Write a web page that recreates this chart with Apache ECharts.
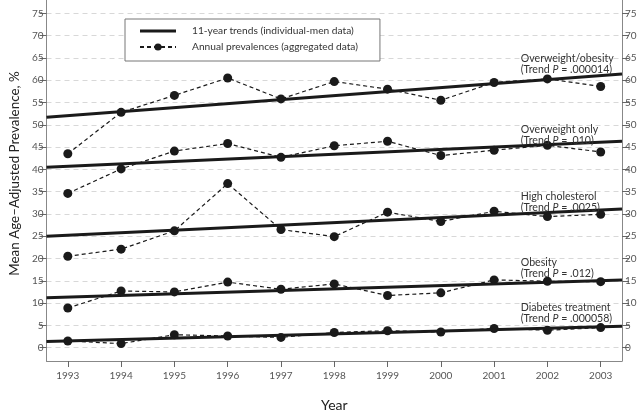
<!DOCTYPE html>
<html>
<head>
<meta charset="utf-8">
<script src="https://cdn.jsdelivr.net/npm/echarts@6/dist/echarts.min.js"></script>
<style>html,body{margin:0;padding:0;background:#fff}#c{width:640px;height:417px}</style>
</head>
<body>
<div id="c"></div>
<script>
// ---- data ----
var years = [1993, 1994, 1995, 1996, 1997, 1998, 1999, 2000, 2001, 2002, 2003];
var yTicks = [0, 5, 10, 15, 20, 25, 30, 35, 40, 45, 50, 55, 60, 65, 70, 75];

var overweightObesity = [43.5, 52.8, 56.6, 60.5, 55.8, 59.7, 58.0, 55.5, 59.5, 60.3, 58.6];
var overweightOnly    = [34.6, 40.1, 44.1, 45.8, 42.7, 45.3, 46.3, 43.1, 44.3, 45.4, 43.9];
var highCholesterol   = [20.5, 22.1, 26.2, 36.8, 26.5, 24.9, 30.4, 28.3, 30.6, 29.4, 29.9];
var obesity           = [8.9, 12.7, 12.5, 14.7, 13.1, 14.3, 11.7, 12.3, 15.2, 14.9, 14.8];
var diabetes          = [1.5, 0.9, 2.9, 2.6, 2.3, 3.4, 3.8, 3.5, 4.3, 3.9, 4.5];

// trend line values at the two x-axis ends (1992.6 and 2003.4)
var trendX = [1992.6, 2003.4];
var trendOverweightObesity = [51.7, 61.4];
var trendOverweightOnly    = [40.5, 46.3];
var trendHighCholesterol   = [25.0, 31.1];
var trendObesity           = [11.2, 15.2];
var trendDiabetes          = [1.4, 4.8];

var outcomeNames = ['Overweight/obesity', 'Overweight only', 'High cholesterol', 'Obesity', 'Diabetes treatment'];
var trendP = ['.000014', '.010', '.0025', '.012', '.000058'];

var trendName = '11-year trends (individual-men data)';
var annualName = 'Annual prevalences (aggregated data)';

// ---- build chart ----
var annualSets = [overweightObesity, overweightOnly, highCholesterol, obesity, diabetes];
var trendSets = [trendOverweightObesity, trendOverweightOnly, trendHighCholesterol, trendObesity, trendDiabetes];
// annotation anchor (data coords) for each outcome label block
var annotX = 2001.5;
var annotY = [63.7, 47.8, 32.7, 17.8, 7.7];

var FONT = 'Lato';
var series = [];
annualSets.forEach(function (arr) {
  series.push({
    name: annualName,
    type: 'line',
    data: years.map(function (y, i) { return [y, arr[i]]; }),
    symbol: 'circle',
    symbolSize: 9,
    itemStyle: { color: '#1a1a1a' },
    lineStyle: { color: '#1a1a1a', width: 1.2, type: [4, 3] },
    z: 3,
    animation: false
  });
});
trendSets.forEach(function (arr, k) {
  series.push({
    name: trendName,
    type: 'line',
    data: trendX.map(function (x, i) { return [x, arr[i]]; }),
    symbol: 'none',
    lineStyle: { color: '#1a1a1a', width: 3 },
    itemStyle: { color: '#1a1a1a' },
    z: 4,
    animation: false,
    markPoint: {
      symbol: 'circle',
      symbolSize: 0,
      silent: true,
      animation: false,
      data: [{
        coord: [annotX, annotY[k]],
        label: {
          show: true,
          position: 'right',
          distance: 0,
          align: 'left',
          formatter: '{n|' + outcomeNames[k] + '}\n{n|(Trend }{i|P}{n| = ' + trendP[k] + ')}',
          rich: {
            n: { fontFamily: FONT, fontSize: 10.6, color: '#333', lineHeight: 11 },
            i: { fontFamily: FONT, fontSize: 10.6, color: '#333', fontStyle: 'italic', lineHeight: 11 }
          }
        }
      }]
    }
  });
});

function yAxisDef(pos) {
  return {
    type: 'value',
    position: pos,
    min: -3,
    max: 78,
    axisLine: { show: true, lineStyle: { color: '#888', width: 1 } },
    axisTick: { show: true, length: 7, lineStyle: { color: '#666' }, customValues: yTicks },
    axisLabel: { customValues: yTicks, fontFamily: FONT, fontSize: 10, color: '#555', margin: 3 },
    splitLine: pos === 'left' ? { show: true, lineStyle: { color: '#d8d8d8', type: [5, 4], width: 1 } } : { show: false }
  };
}

var yl = yAxisDef('left');
yl.name = 'Mean Age\u2013Adjusted Prevalence, %';
yl.nameLocation = 'middle';
yl.nameGap = 25;
yl.nameTextStyle = { fontFamily: FONT, fontSize: 13.4, color: '#222', padding: [0, 0, 0, 14] };

var option = {
  backgroundColor: '#fff',
  animation: false,
  grid: { left: 43, right: 18, top: 0, bottom: 46, containLabel: false },
  legend: {
    orient: 'vertical',
    left: 125,
    top: 19,
    data: [
      { name: trendName, icon: 'path://M0,0H36V3H0Z' },
      { name: annualName }
    ],
    itemWidth: 36,
    itemHeight: 9,
    itemGap: 6,
    padding: [7, 22, 9, 14],
    borderColor: '#777',
    borderWidth: 1,
    backgroundColor: '#fff',
    textStyle: { fontFamily: FONT, fontSize: 10.2, color: '#333', padding: [0, 0, 0, 11] }
  },
  xAxis: {
    type: 'value',
    min: 1992.6,
    max: 2003.4,
    name: 'Year',
    nameLocation: 'middle',
    nameGap: 37,
    nameTextStyle: { fontFamily: FONT, fontSize: 14, color: '#222' },
    axisLine: { show: true, onZero: false, lineStyle: { color: '#888' } },
    axisTick: { show: true, length: 6, lineStyle: { color: '#666' }, customValues: years },
    axisLabel: { customValues: years, fontFamily: FONT, fontSize: 10, color: '#555', margin: 10, formatter: function (v) { return String(v); } },
    splitLine: { show: false }
  },
  yAxis: [yl, yAxisDef('right')],
  series: series
};

var chart = echarts.init(document.getElementById('c'), null, { renderer: 'canvas' });
chart.setOption(option);
</script>
</body>
</html>
